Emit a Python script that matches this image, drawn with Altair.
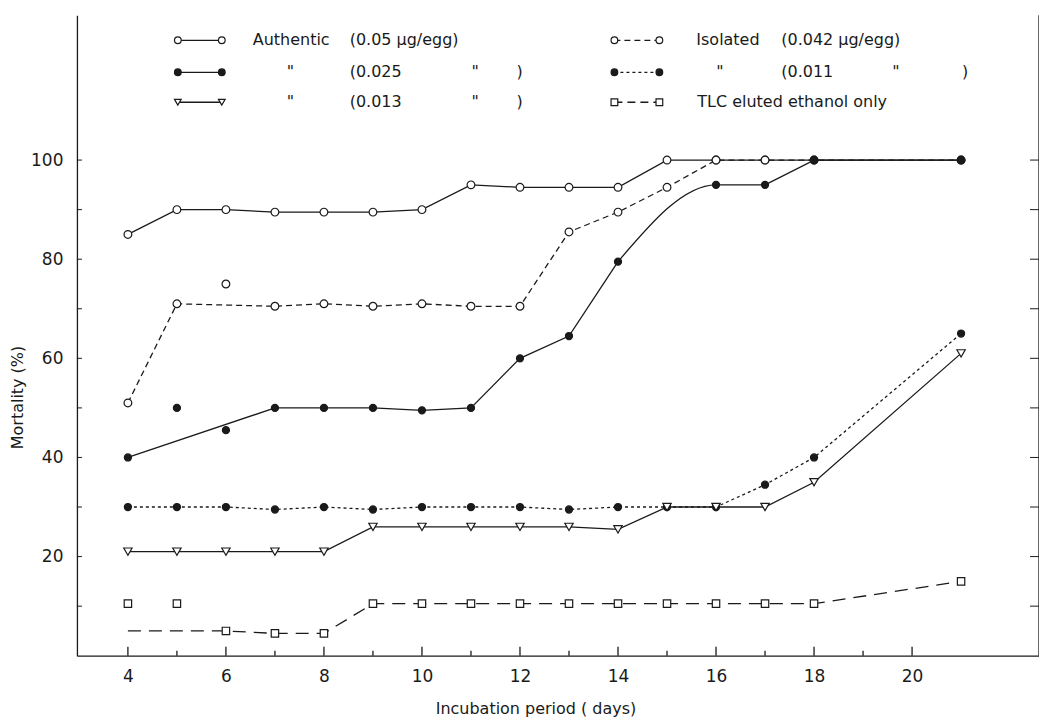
import altair as alt
import pandas as pd

# ---------------- data ----------------
days = [4, 5, 6, 7, 8, 9, 10, 11, 12, 13, 14, 15, 16, 17, 18, 21]

# Authentic 0.05 ug/egg (open circle, solid)
auth05_vals = [85, 90, 90, 89.5, 89.5, 89.5, 90, 95, 94.5, 94.5, 94.5, 100, 100, 100, 100, 100]

# Isolated 0.042 ug/egg (open circle, dashed)
iso042_vals = [51, 71, 75, 70.5, 71, 70.5, 71, 70.5, 70.5, 85.5, 89.5, 94.5, 100, 100, 100, 100]
iso042_line_days = [4, 5, 7, 8, 9, 10, 11, 12, 13, 14, 15, 16, 17, 18, 21]
iso042_line_vals = [51, 71, 70.5, 71, 70.5, 71, 70.5, 70.5, 85.5, 89.5, 94.5, 100, 100, 100, 100]

# Authentic 0.025 (filled circle, solid)
auth025_days = [4, 5, 6, 7, 8, 9, 10, 11, 12, 13, 14, 16, 17, 18, 21]
auth025_vals = [40, 50, 45.5, 50, 50, 50, 49.5, 50, 60, 64.5, 79.5, 95, 95, 100, 100]
auth025_lineA_days = [4, 7, 8, 9, 10, 11, 12, 13, 14]
auth025_lineA_vals = [40, 50, 50, 50, 49.5, 50, 60, 64.5, 79.5]
auth025_curve_days = [14, 16, 17]
auth025_curve_vals = [79.5, 95, 95]
auth025_lineB_days = [17, 18, 21]
auth025_lineB_vals = [95, 100, 100]

# Isolated 0.011 (filled circle, dotted)
iso011_vals = [30, 30, 30, 29.5, 30, 29.5, 30, 30, 30, 29.5, 30, 30, 30, 34.5, 40, 65]

# Authentic 0.013 (triangle, solid)
auth013_vals = [21, 21, 21, 21, 21, 26, 26, 26, 26, 26, 25.5, 30, 30, 30, 35, 61]

# TLC eluted ethanol only (square, long dash)
tlc_vals = [10.5, 10.5, 5, 4.5, 4.5, 10.5, 10.5, 10.5, 10.5, 10.5, 10.5, 10.5, 10.5, 10.5, 10.5, 15]
tlc_line_vals = [5, 5, 5, 4.5, 4.5, 10.5, 10.5, 10.5, 10.5, 10.5, 10.5, 10.5, 10.5, 10.5, 10.5, 15]

x_labels = [4, 6, 8, 10, 12, 14, 16, 18, 20]
x_minor = [5, 7, 9, 11, 13, 15, 17, 19]
y_labels = [20, 40, 60, 80, 100]
y_ticks = [10, 20, 30, 40, 50, 60, 70, 80, 90, 100]

# ---------------- style ----------------
INK = "#1a1a1a"
FONT = "DejaVu Sans"
W, H = 963, 641
xs = alt.Scale(domain=[2.96, 22.59], nice=False, zero=False)
ys = alt.Scale(domain=[0, 129.2], nice=False, zero=False)

x_axis = alt.Axis(
    values=x_labels, tickSize=0, grid=False, domainColor=INK, domainWidth=1.3,
    labelFont=FONT, labelFontSize=17, labelColor=INK, labelPadding=13, labelFlush=False,
    title="Incubation period ( days)", titleFont=FONT, titleFontSize=16,
    titleFontWeight="normal", titleColor=INK, titleX=459, titleY=53,
    titleAlign="center", titleBaseline="middle")
y_axis = alt.Axis(
    values=y_labels, tickSize=0, grid=False, domainColor=INK, domainWidth=1.3,
    labelFont=FONT, labelFontSize=17, labelColor=INK, labelPadding=14, labelFlush=False,
    title="Mortality (%)", titleFont=FONT, titleFontSize=16, titleFontWeight="normal",
    titleColor=INK, titleX=-59, titleY=382, titleAngle=270,
    titleAlign="center", titleBaseline="middle")

X = alt.X("day:Q", scale=xs, axis=x_axis)
Y = alt.Y("val:Q", scale=ys, axis=y_axis)


def df(d, v):
    return pd.DataFrame({"day": d, "val": v})


def line(d, v, dash=None, interp="linear"):
    kw = dict(color=INK, strokeWidth=1.3, interpolate=interp)
    if dash:
        kw["strokeDash"] = dash
    return alt.Chart(df(d, v)).mark_line(**kw).encode(x=X, y=Y)


def pts(d, v, shape, filled_black, size):
    return alt.Chart(df(d, v)).mark_point(
        shape=shape, filled=True, fill=INK if filled_black else "white",
        stroke=INK, strokeWidth=1.2, size=size, opacity=1
    ).encode(x=X, y=Y)


tick_major = alt.Chart(pd.DataFrame({"day": x_labels})).mark_rule(color=INK, strokeWidth=1.3).encode(
    x=X, y=alt.value(H), y2=alt.value(H - 9))
tick_minor = alt.Chart(pd.DataFrame({"day": x_minor})).mark_rule(color=INK, strokeWidth=1.3).encode(
    x=X, y=alt.value(H), y2=alt.value(H - 5))
ytick_left = alt.Chart(pd.DataFrame({"val": y_ticks})).mark_rule(color=INK, strokeWidth=1).encode(
    y=Y, x=alt.value(0), x2=alt.value(5))
ytick_right = alt.Chart(pd.DataFrame({"val": y_ticks})).mark_rule(color=INK, strokeWidth=1).encode(
    y=Y, x=alt.value(W - 9), x2=alt.value(W))
right_border = alt.Chart(pd.DataFrame({"k": [0]})).mark_rule(color=INK, strokeWidth=1.3).encode(
    x=alt.value(W), y=alt.value(0), y2=alt.value(H))

layers = [
    tick_major, tick_minor, ytick_left, ytick_right, right_border,
    line(days, auth05_vals),
    line(iso042_line_days, iso042_line_vals, dash=[6, 4]),
    line(auth025_lineA_days, auth025_lineA_vals),
    line(auth025_curve_days, auth025_curve_vals, interp="monotone"),
    line(auth025_lineB_days, auth025_lineB_vals),
    line(days, iso011_vals, dash=[3, 3]),
    line(days, auth013_vals),
    line(days, tlc_line_vals, dash=[13, 8]),
    pts(days, auth05_vals, "circle", False, 60),
    pts(days, iso042_vals, "circle", False, 60),
    pts(days, iso011_vals, "circle", True, 50),
    pts(auth025_days, auth025_vals, "circle", True, 50),
    pts(days, auth013_vals, "triangle-down", False, 70),
    pts(days, tlc_vals, "square", False, 55),
]

# ---------------- legend (two columns, three rows) ----------------
ONE = pd.DataFrame({"k": [0]})
rows = [25, 57, 87]
left_m = (101, 145)
right_m = (538, 583)
legend_syms = [
    (left_m, rows[0], None, "circle", False),
    (left_m, rows[1], None, "circle", True),
    (left_m, rows[2], None, "triangle-down", False),
    (right_m, rows[0], [6, 4], "circle", False),
    (right_m, rows[1], [3, 3], "circle", True),
    (right_m, rows[2], [8, 5], "square", False),
]
for (m1, m2), r, dash, shape, fb in legend_syms:
    kw = dict(color=INK, strokeWidth=1.3)
    if dash:
        kw["strokeDash"] = dash
    layers.append(alt.Chart(ONE).mark_rule(**kw).encode(
        x=alt.value(m1), x2=alt.value(m2), y=alt.value(r)))
    for m in (m1, m2):
        layers.append(alt.Chart(ONE).mark_point(
            shape=shape, filled=True, fill=INK if fb else "white", stroke=INK,
            strokeWidth=1.2, size=45, opacity=1).encode(x=alt.value(m), y=alt.value(r)))

legend_texts = [
    (176, rows[0], "Authentic"), (273, rows[0], "(0.05  µg/egg)"),
    (210, rows[1], "\""), (273, rows[1], "(0.025"), (395, rows[1], "\""), (440, rows[1], ")"),
    (210, rows[2], "\""), (273, rows[2], "(0.013"), (395, rows[2], "\""), (440, rows[2], ")"),
    (620, rows[0], "Isolated"), (705, rows[0], "(0.042 µg/egg)"),
    (640, rows[1], "\""), (705, rows[1], "(0.011"), (816, rows[1], "\""), (886, rows[1], ")"),
    (621, rows[2], "TLC  eluted  ethanol  only"),
]
for tx, ty, t in legend_texts:
    layers.append(alt.Chart(pd.DataFrame({"t": [t]})).mark_text(
        font=FONT, fontSize=16, color=INK, align="left", baseline="middle").encode(
        x=alt.value(tx), y=alt.value(ty), text="t:N"))

chart = alt.layer(*layers).properties(
    width=W, height=H, background="white",
    autosize=alt.AutoSizeParams(type="none"),
    padding={"left": 69, "top": 7, "right": 0, "bottom": 63},
).configure_view(stroke=None)

chart.save("out.html", embed_options={"renderer": "svg", "actions": False})
